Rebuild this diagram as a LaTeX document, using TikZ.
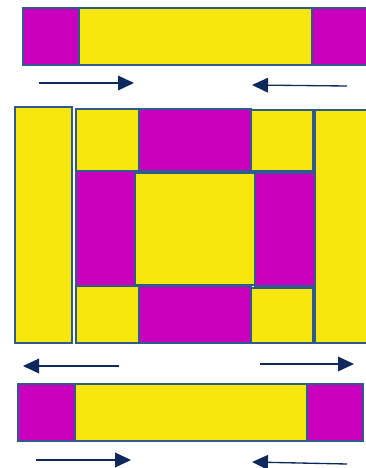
\documentclass[tikz,border=0pt]{standalone}
\usetikzlibrary{arrows.meta}
\definecolor{mag}{HTML}{C800BE}
\definecolor{yel}{HTML}{F8E70E}
\definecolor{edge}{HTML}{2F5A8F}
\definecolor{navy}{HTML}{0E2A5C}
\begin{document}
\begin{tikzpicture}[x=0.75pt,y=-0.75pt,
  ybox/.style={fill=yel,draw=edge,line width=1.6pt},
  mbox/.style={fill=mag,draw=edge,line width=1.6pt},
  arr/.style={draw=navy,line width=1pt,-{Triangle[length=12pt,width=11pt]}}]
\useasboundingbox (0,0) rectangle (366,468);
% top strip
\draw[mbox] (23,8) rectangle (79,65);
\draw[mbox] (312,8) rectangle (370,65);
\draw[ybox] (79,8) rectangle (312,65);
\coordinate (a1s) at (39,83); \coordinate (a1e) at (134,83);
\coordinate (a2s) at (347,86); \coordinate (a2e) at (252,85);
\draw[arr] (a1s) -- (a1e);
\draw[arr] (a2s) -- (a2e);
% middle
\draw[ybox] (15,107) rectangle (72,343);
\draw[ybox] (315,110) rectangle (370,343);
\draw[ybox] (76,109) rectangle (139,171);
\draw[mbox] (139,109) rectangle (251,171);
\draw[ybox] (251,110) rectangle (313,171);
\draw[mbox] (76,171) rectangle (135,286);
\draw[mbox] (255,173) rectangle (315,286);
\draw[ybox] (135,173) rectangle (255,285);
\draw[ybox] (76,286) rectangle (139,343);
\draw[mbox] (139,286) rectangle (251,343);
\draw[ybox] (251,288) rectangle (313,343);
% bottom arrows above strip
\coordinate (b1s) at (119,366); \coordinate (b1e) at (23,366);
\coordinate (b2s) at (260,364); \coordinate (b2e) at (354,364);
\draw[arr] (b1s) -- (b1e);
\draw[arr] (b2s) -- (b2e);
% bottom strip
\draw[mbox] (18,384) rectangle (75,441);
\draw[mbox] (307,384) rectangle (363,441);
\draw[ybox] (75,384) rectangle (307,441);
\coordinate (c1s) at (36,460); \coordinate (c1e) at (131,460);
\coordinate (c2s) at (347,464); \coordinate (c2e) at (252,462);
\draw[arr] (c1s) -- (c1e);
\draw[arr] (c2s) -- (c2e);
\end{tikzpicture}
\end{document}
